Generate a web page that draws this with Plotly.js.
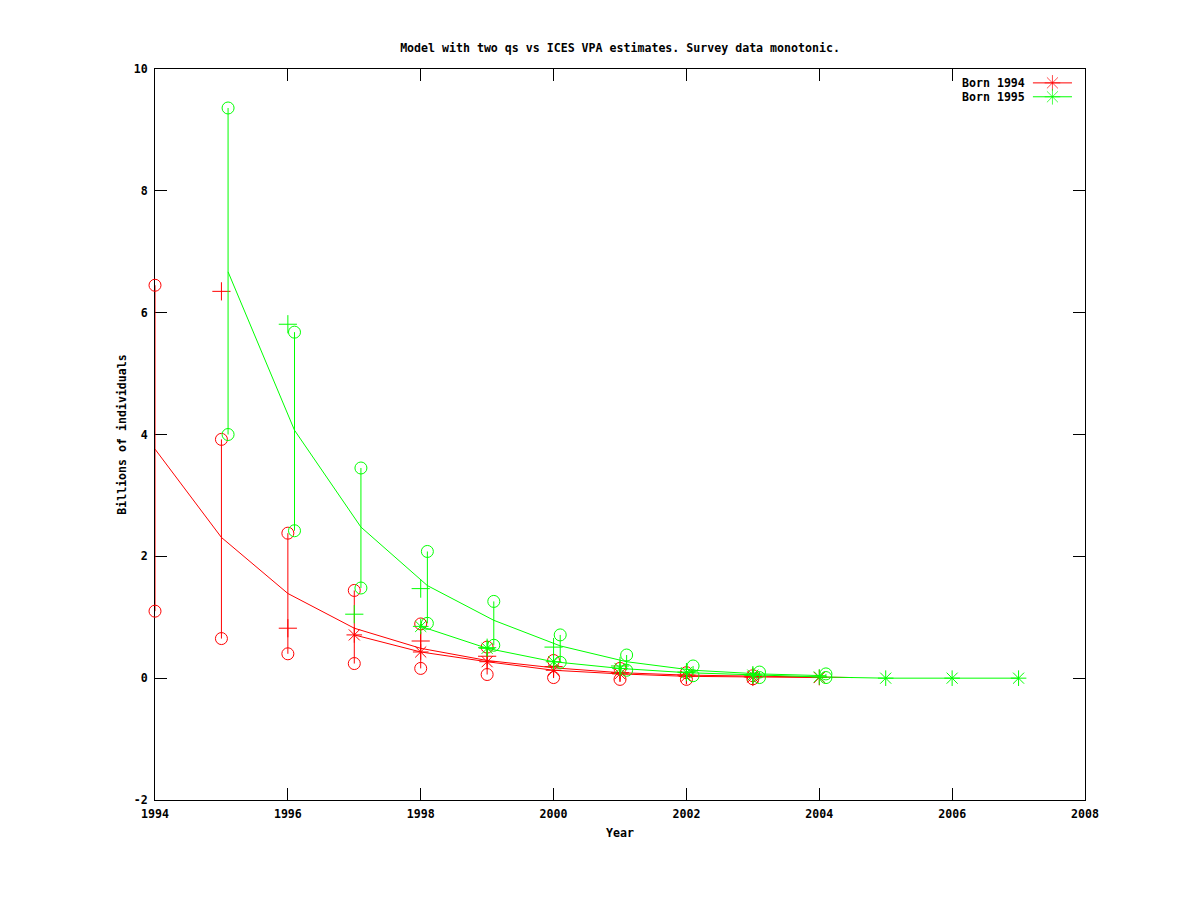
<!DOCTYPE html>
<html>
<head>
<meta charset="utf-8">
<script src="https://cdn.plot.ly/plotly-3.0.1.min.js"></script>
<style>
  html, body { margin: 0; padding: 0; background: #ffffff; }
  #chart { width: 1200px; height: 900px; }
</style>
</head>
<body>
<div id="chart"></div>
<script>
// ---------------- data ----------------
const chartTitle = 'Model with two qs vs ICES VPA estimates. Survey data monotonic.';
const xTitle = 'Year';
const yTitle = 'Billions of individuals';
const seriesNames = ['Born 1994', 'Born 1995'];

const xTickVals = [1994, 1996, 1998, 2000, 2002, 2004, 2006, 2008];
const xTickText = ['1994', '1996', '1998', '2000', '2002', '2004', '2006', '2008'];
const yTickVals = [-2, 0, 2, 4, 6, 8, 10];
const yTickText = ['-2', '0', '2', '4', '6', '8', '10'];

// Born 1994 (red)
const redSurveyYears = [1994, 1995, 1996, 1997, 1998, 1999, 2000, 2001, 2002, 2003];
const redSurveyHigh  = [6.45, 3.92, 2.38, 1.44, 0.89, 0.51, 0.29, 0.16, 0.09, 0.04];
const redSurveyLow   = [1.10, 0.65, 0.40, 0.24, 0.16, 0.06, 0.01, -0.02, -0.02, -0.01];
const redCrossYears  = [1995, 1996, 1998, 1999, 2000, 2001, 2002, 2003];
const redCross       = [6.35, 0.82, 0.61, 0.36, 0.19, 0.09, 0.05, 0.02];
const redModelYears  = [1994, 1995, 1996, 1997, 1998, 1999, 2000, 2001, 2002, 2003, 2004, 2004.5];
const redModel       = [3.76, 2.31, 1.39, 0.82, 0.49, 0.29, 0.17, 0.09, 0.05, 0.03, 0.01, 0.01];
const redVpaYears    = [1997, 1998, 1999, 2000, 2001, 2002, 2003, 2004];
const redVpa         = [0.71, 0.43, 0.27, 0.13, 0.07, 0.03, 0.02, 0.01];

// Born 1995 (green)
const greenSurveyYears = [1995.1, 1996.1, 1997.1, 1998.1, 1999.1, 2000.1, 2001.1, 2002.1, 2003.1, 2004.1];
const greenSurveyHigh  = [9.36, 5.68, 3.45, 2.08, 1.26, 0.71, 0.38, 0.20, 0.10, 0.07];
const greenSurveyLow   = [4.00, 2.42, 1.48, 0.90, 0.54, 0.26, 0.13, 0.04, 0.01, 0.01];
const greenCrossYears  = [1996, 1997, 1998, 1999, 2000, 2001, 2002, 2003];
const greenCross       = [5.81, 1.05, 1.47, 0.50, 0.51, 0.20, 0.10, 0.05];
const greenModelYears  = [1995.1, 1996.1, 1997.1, 1998.1, 1999.1, 2000.1, 2001.1, 2002.1, 2003.1, 2004.1];
const greenModel       = [6.67, 4.07, 2.48, 1.52, 0.95, 0.53, 0.27, 0.13, 0.07, 0.04];
const greenVpaYears    = [1998, 1999, 2000, 2001, 2002, 2003, 2004, 2005, 2006, 2007];
const greenVpa         = [0.85, 0.49, 0.27, 0.16, 0.09, 0.05, 0.02, 0.00, 0.00, 0.00];

// ---------------- styles ----------------
const RED = '#ff0000';
const GREEN = '#00ff00';
const FONT = { family: '"DejaVu Sans Mono", "Liberation Mono", monospace', size: 11.6, color: '#000000', weight: 'bold' };

function barSegments(xs, lo, hi) {
  const x = [], y = [];
  for (let i = 0; i < xs.length; i++) {
    x.push(xs[i], xs[i], null);
    y.push(lo[i], hi[i], null);
  }
  return { x, y };
}

function seriesTraces(color, sx, hi, lo, cx, cy, mx, my, vx, vy) {
  const seg = barSegments(sx, lo, hi);
  return [
    { type: 'scatter', mode: 'lines', x: seg.x, y: seg.y, line: { color, width: 1 }, hoverinfo: 'skip', showlegend: false, cliponaxis: false },
    { type: 'scatter', mode: 'markers', x: sx.concat(sx), y: hi.concat(lo), cliponaxis: false,
      marker: { symbol: 'circle-open', size: 12, color, line: { color, width: 1 } }, showlegend: false },
    { type: 'scatter', mode: 'markers', x: cx, y: cy, cliponaxis: false,
      marker: { symbol: 'cross-thin-open', size: 13, color, line: { color, width: 1 } }, showlegend: false },
    { type: 'scatter', mode: 'lines', x: mx, y: my, line: { color, width: 1 }, showlegend: false, cliponaxis: false },
    { type: 'scatter', mode: 'lines+markers', x: vx, y: vy, line: { color, width: 1 }, cliponaxis: false,
      marker: { symbol: 'asterisk-open', size: 13, color, line: { color, width: 1 } }, showlegend: false }
  ];
}

const traces = []
  .concat(seriesTraces(RED, redSurveyYears, redSurveyHigh, redSurveyLow, redCrossYears, redCross,
                       redModelYears, redModel, redVpaYears, redVpa))
  .concat(seriesTraces(GREEN, greenSurveyYears, greenSurveyHigh, greenSurveyLow, greenCrossYears, greenCross,
                       greenModelYears, greenModel, greenVpaYears, greenVpa));

// gnuplot-style key (text left of sample), drawn on a hidden 0..1 overlay axis
const keyColors = [RED, GREEN];
const keyRows = [0.981, 0.962];
const keyLineX = [0.944, 0.965, 0.986];
keyColors.forEach((c, i) => {
  traces.push({
    type: 'scatter', mode: 'lines+markers', xaxis: 'x2', yaxis: 'y2',
    x: keyLineX, y: [keyRows[i], keyRows[i], keyRows[i]],
    line: { color: c, width: 1 },
    marker: { symbol: 'asterisk-open', size: [0, 13, 0], color: c, line: { color: c, width: 1 } },
    showlegend: false, hoverinfo: 'skip'
  });
});

const annotations = seriesNames.map((name, i) => ({
  xref: 'paper', yref: 'paper', x: 0.938, y: keyRows[i],
  xanchor: 'right', yanchor: 'middle', showarrow: false,
  text: name, font: FONT
}));

const axisCommon = {
  showgrid: false, zeroline: false, showline: true, linecolor: '#000000', linewidth: 1,
  mirror: 'ticks', ticks: 'inside', ticklen: 12, tickwidth: 1, tickcolor: '#000000',
  tickfont: FONT, layer: 'below traces'
};

const layout = {
  width: 1200, height: 900,
  paper_bgcolor: '#ffffff', plot_bgcolor: '#ffffff',
  margin: { l: 155, r: 115, t: 69, b: 100, pad: 0 },
  showlegend: false,
  font: FONT,
  title: { text: chartTitle, font: FONT, xref: 'paper', x: 0.5, xanchor: 'center',
           yref: 'container', y: 1 - 48 / 900, yanchor: 'middle' },
  xaxis: Object.assign({}, axisCommon, {
    range: [1994, 2008], tickmode: 'array', tickvals: xTickVals, ticktext: xTickText,
    ticklabelstandoff: 3,
    title: { text: xTitle, font: FONT, standoff: 8 }
  }),
  yaxis: Object.assign({}, axisCommon, {
    range: [-2, 10], tickmode: 'array', tickvals: yTickVals, ticktext: yTickText,
    ticklabelstandoff: 4,
    title: { text: yTitle, font: FONT, standoff: 4 }
  }),
  xaxis2: { overlaying: 'x', range: [0, 1], visible: false, fixedrange: true, anchor: 'y2' },
  yaxis2: { overlaying: 'y', range: [0, 1], visible: false, fixedrange: true, anchor: 'x2' },
  annotations: annotations
};

Plotly.newPlot('chart', traces, layout, { staticPlot: true, displayModeBar: false });
</script>
</body>
</html>
